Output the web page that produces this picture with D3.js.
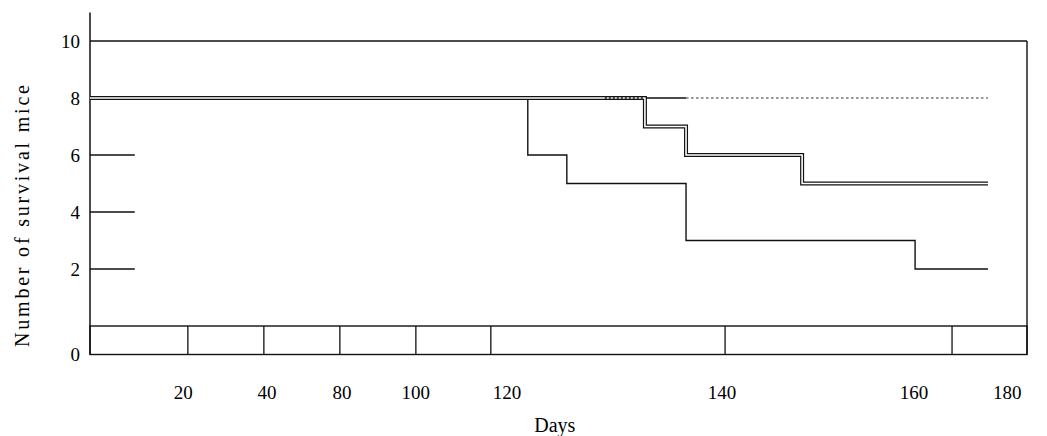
<!DOCTYPE html>
<html>
<head>
<meta charset="utf-8">
<script src="https://cdn.jsdelivr.net/npm/d3@7"></script>
<style>
body{margin:0;background:#fff;}
text{font-family:"Liberation Serif","DejaVu Serif",serif;fill:#000;}
</style>
</head>
<body>
<script>
//data (days, number of surviving mice)
const groupA=[[0,8],[172.5,8]]            // stays at 8
const groupASolidUntil=114.5              // after this it is dotted
const groupB=[[0,8],[106.6,7],[114.5,6],[136.8,5],[172.5,5]]
const groupBDotted=[98.9,106.6]
const groupC=[[0,8],[84.1,6],[91.6,5],[114.5,3],[158.5,2],[172.5,2]]

//axis stuff
const yTickLines=[6,4,2]
const yLabels=["10","8","6","4","2","0"]
const yLabelAt=[10,8,6,4,2,-1]
const xLabels=["20","40","80","100","120","140","160","180"]
const xLabelAt=[17.9,34.0,48.4,62.6,80.1,121.4,158.3,176.2]
const stripBreaks=[18.8,33.4,48.0,62.6,77.0,122.0,165.6]

//constants
const w=1047
const h=436

//scales
const x=d3.scaleLinear().domain([0,180]).range([90,1027])
const y=d3.scaleLinear().domain([-1,11]).range([354.5,12.5])

const svg=d3.select("body")
            .append("svg")
            .attr("width",w)
            .attr("height",h)

const line=d3.line()
            .x(d=>x(d[0]))
            .y(d=>y(d[1]))
            .curve(d3.curveStepAfter)

//frame
svg.append("line")
    .attr("x1",x(0)).attr("x2",x(0))
    .attr("y1",y(11)).attr("y2",y(-1))
    .attr("stroke","#111").attr("stroke-width",1.5)
svg.append("line")
    .attr("x1",x(0)).attr("x2",x(180))
    .attr("y1",y(10)).attr("y2",y(10))
    .attr("stroke","#111").attr("stroke-width",1.4)
svg.append("line")
    .attr("x1",x(180)).attr("x2",x(180))
    .attr("y1",y(10)).attr("y2",y(-1))
    .attr("stroke","#111").attr("stroke-width",1.4)

//bottom strip
svg.append("rect")
    .attr("x",x(0))
    .attr("y",y(0))
    .attr("width",x(180)-x(0))
    .attr("height",y(-1)-y(0))
    .attr("fill","none")
    .attr("stroke","#111")
    .attr("stroke-width",1.4)
svg.selectAll(".brk")
    .data(stripBreaks)
    .enter()
    .append("line")
    .attr("class","brk")
    .attr("x1",d=>x(d)).attr("x2",d=>x(d))
    .attr("y1",y(0)).attr("y2",y(-1))
    .attr("stroke","#111").attr("stroke-width",1.3)

//short y ticks
svg.selectAll(".ytick")
    .data(yTickLines)
    .enter()
    .append("line")
    .attr("class","ytick")
    .attr("x1",x(0)).attr("x2",x(8.6))
    .attr("y1",d=>y(d)).attr("y2",d=>y(d))
    .attr("stroke","#111").attr("stroke-width",1.3)

//y labels
svg.selectAll(".ylab")
    .data(yLabels)
    .enter()
    .append("text")
    .attr("class","ylab")
    .attr("x",80)
    .attr("y",(d,i)=>y(yLabelAt[i]))
    .attr("dy","0.35em")
    .attr("text-anchor","end")
    .style("font-size","19px")
    .text(d=>d)

//x labels
svg.selectAll(".xlab")
    .data(xLabels)
    .enter()
    .append("text")
    .attr("class","xlab")
    .attr("x",(d,i)=>x(xLabelAt[i]))
    .attr("y",399)
    .attr("text-anchor","middle")
    .style("font-size","19px")
    .text(d=>d)

svg.append("text")
    .attr("x",x(89.3))
    .attr("y",432)
    .attr("text-anchor","middle")
    .style("font-size","20px")
    .text("Days")

svg.append("text")
    .attr("transform","translate(29,216) rotate(-90)")
    .attr("text-anchor","middle")
    .attr("textLength",262)
    .attr("lengthAdjust","spacing")
    .style("font-size","20px")
    .text("Number of survival mice")

//group A (solid then dotted)
svg.append("path")
    .attr("d",line(groupA.filter(d=>d[0]<=groupASolidUntil).concat([[groupASolidUntil,8]])))
    .attr("fill","none").attr("stroke","#111").attr("stroke-width",1.3)
svg.append("path")
    .attr("d",line([[groupASolidUntil,8]].concat(groupA.filter(d=>d[0]>groupASolidUntil))))
    .attr("fill","none").attr("stroke","#333").attr("stroke-width",1.2)
    .attr("stroke-dasharray","2.5,2.5")

//group C single line
svg.append("path")
    .attr("d",line(groupC))
    .attr("fill","none").attr("stroke","#111").attr("stroke-width",1.4)

//group B double line
svg.append("path")
    .attr("d",line(groupB))
    .attr("fill","none").attr("stroke","#111").attr("stroke-width",4)
svg.append("path")
    .attr("d",line(groupB))
    .attr("fill","none").attr("stroke","#fff").attr("stroke-width",1.6)
svg.append("line")
    .attr("x1",x(groupBDotted[0])).attr("x2",x(groupBDotted[1]))
    .attr("y1",y(8)).attr("y2",y(8))
    .attr("stroke","#111").attr("stroke-width",1.6)
    .attr("stroke-dasharray","2,2")
</script>
</body>
</html>
